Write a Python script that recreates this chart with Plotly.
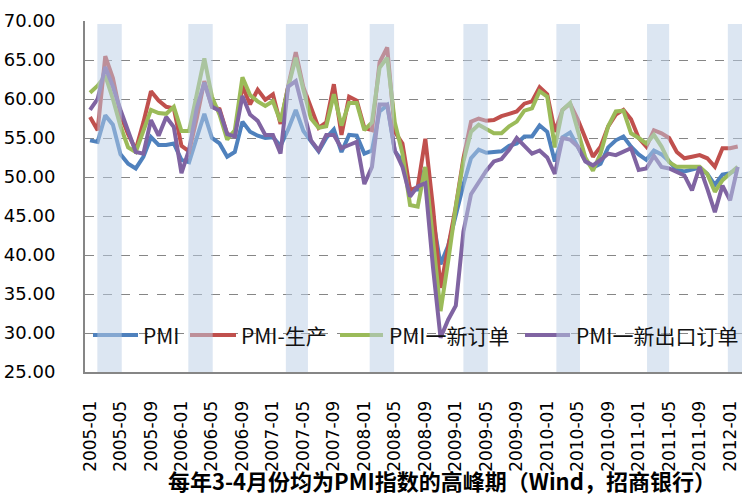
import plotly.graph_objects as go

# ---- data ----
months = [f"{y}-{m:02d}" for y in range(2005, 2013) for m in range(1, 13)][:86]

tick_labels = ["2005-01", "2005-05", "2005-09", "2006-01", "2006-05", "2006-09",
               "2007-01", "2007-05", "2007-09", "2008-01", "2008-05", "2008-09",
               "2009-01", "2009-05", "2009-09", "2010-01", "2010-05", "2010-09",
               "2011-01", "2011-05", "2011-09", "2012-01"]

pmi = [54.7, 54.5, 57.9, 56.7, 52.9, 51.7, 51.1, 52.6, 55.1, 54.1, 54.1, 54.3,
       52.2, 51.9, 55.0, 58.1, 55.0, 54.3, 52.6, 53.2, 57.1, 55.8, 55.3, 55.0,
       55.1, 54.0, 56.1, 58.6, 55.9, 54.5, 53.3, 55.0, 56.1, 53.2, 55.4, 55.3,
       53.0, 53.4, 58.4, 59.2, 53.3, 52.0, 48.4, 48.4, 51.2, 44.6, 38.8, 41.2,
       45.3, 49.0, 52.4, 53.5, 53.1, 53.2, 53.3, 54.0, 54.3, 55.2, 55.2, 56.6,
       55.8, 52.0, 55.1, 55.7, 53.9, 52.1, 51.2, 51.7, 53.8, 54.7, 55.2, 53.9,
       52.9, 52.2, 53.4, 52.9, 52.0, 50.9, 50.7, 50.9, 51.2, 50.4, 49.0, 50.3,
       50.5, 51.0]

production = [57.7, 56.0, 65.5, 62.7, 58.0, 55.5, 53.5, 57.0, 61.0, 59.8, 59.0, 58.8,
              54.0, 53.3, 57.5, 62.3, 59.0, 58.7, 55.5, 55.3, 61.7, 59.3, 61.2, 59.9,
              60.6, 56.8, 61.6, 66.0, 61.5, 59.0, 56.3, 57.0, 61.9, 55.4, 60.3, 59.8,
              56.3, 56.0, 64.7, 66.6, 55.8, 54.3, 48.3, 48.7, 54.9, 46.2, 35.8, 41.0,
              46.2, 52.4, 57.1, 57.5, 57.2, 57.3, 57.8, 58.1, 58.4, 59.4, 59.7, 61.5,
              60.6, 55.8, 58.6, 59.4, 57.4, 55.0, 52.6, 53.9, 56.5, 58.0, 58.6, 57.4,
              55.0, 53.9, 56.0, 55.6, 55.0, 53.2, 52.4, 52.6, 52.8, 52.4, 51.3, 53.7,
              53.7, 53.9]

new_orders = [60.8, 61.7, 63.0, 60.0, 56.5, 53.8, 53.2, 56.0, 58.6, 58.2, 58.1, 59.0,
              55.9, 55.9, 60.5, 65.2, 60.3, 58.0, 54.8, 56.0, 62.8, 60.5, 59.7, 59.1,
              59.7, 57.1, 61.5, 65.3, 61.2, 57.5, 56.3, 56.5, 60.6, 56.6, 59.5, 59.5,
              56.0, 57.0, 64.0, 65.3, 57.0, 53.0, 46.4, 46.2, 51.3, 42.3, 32.8, 39.2,
              46.2, 52.0, 55.8, 56.7, 56.2, 55.6, 55.6, 56.5, 57.1, 58.5, 58.8, 61.0,
              60.3, 53.8, 58.6, 59.5, 56.0, 52.5, 50.8, 53.0, 56.5, 58.4, 58.5, 55.6,
              55.0, 54.3, 55.4, 53.9, 51.9, 51.3, 51.3, 51.3, 51.3, 50.4, 48.1, 49.6,
              50.4, 51.3]

export_orders = [58.6, 60.0, 64.1, 61.6, 58.6, 56.0, 53.2, 53.0, 57.3, 55.3, 57.7, 56.4,
                 50.5, 53.5, 58.8, 62.1, 59.0, 58.5, 55.5, 55.2, 60.4, 58.0, 57.2, 55.4,
                 55.4, 53.0, 61.6, 62.3, 58.5, 54.7, 53.4, 55.4, 55.4, 53.7, 54.1, 54.5,
                 49.1, 51.3, 59.3, 59.3, 53.4, 51.3, 47.5, 48.8, 49.2, 38.5, 29.4, 31.7,
                 33.5, 43.0, 47.8, 49.3, 50.8, 52.0, 52.3, 53.5, 55.0, 54.0, 53.0, 53.4,
                 52.5, 50.4, 55.0, 54.8, 53.9, 52.0, 51.5, 52.2, 53.0, 52.8, 53.2, 53.7,
                 50.9, 51.1, 52.7, 51.3, 51.1, 50.6, 50.2, 48.3, 51.3, 48.5, 45.5, 48.9,
                 47.0, 51.3]

series_names = ["PMI", "PMI-生产", "PMI一新订单", "PMI一新出口订单"]
series_colors = ["#4F81BD", "#C0504D", "#9BBB59", "#8064A2"]

# shaded peak periods (March-April), in month-index units
band_start = [0.96, 12.9, 25.7, 36.7, 49.0, 61.2, 73.1, 83.7]
band_end = [4.16, 16.1, 28.6, 39.9, 52.2, 64.3, 76.0, 86.5]

title_text = "每年3-4月份均为PMI指数的高峰期（Wind，招商银行）"

# ---- geometry helpers (pixel -> paper) ----
W, H = 742, 495
ML, MR, MT, MB = 85, 0, 21, 123
PW, PH = W - ML - MR, H - MT - MB


def px_x(p):
    return (p - ML) / PW


def px_y(p):
    return (H - MB - p) / PH


# ---- figure ----
fig = go.Figure()
for name, vals, col in zip(series_names, [pmi, production, new_orders, export_orders], series_colors):
    fig.add_trace(go.Scatter(x=months, y=vals, name=name, mode="lines",
                             line=dict(color=col, width=4), showlegend=False))

# legend drawn in the plot, like the original (line sample + label)
leg_line_x0 = [93, 190, 340, 525]
leg_line_x1 = [138, 236, 383, 570]
leg_text_x = [141, 239, 387, 574]
leg_y = 335
annotations = []
for name, col, a, b, t in zip(series_names, series_colors, leg_line_x0, leg_line_x1, leg_text_x):
    fig.add_shape(type="line", xref="paper", yref="paper", x0=px_x(a), x1=px_x(b),
                  y0=px_y(leg_y), y1=px_y(leg_y), line=dict(color=col, width=4), layer="above")
    annotations.append(dict(text=name, xref="paper", yref="paper", x=px_x(t), y=px_y(leg_y),
                            xanchor="left", yanchor="middle", showarrow=False,
                            font=dict(family="Noto Sans CJK SC", size=21, color="#111111")))

for s, e in zip(band_start, band_end):
    fig.add_shape(type="rect", xref="x", yref="y", x0=s, x1=e, y0=25, y1=69.6,
                  fillcolor="rgb(185,205,229)", opacity=0.5, line_width=0, layer="above")

annotations.append(dict(text="<b>" + title_text + "</b>", xref="paper", yref="paper",
                        x=px_x(442), y=px_y(480), xanchor="center", yanchor="middle",
                        showarrow=False,
                        font=dict(family="Noto Sans CJK SC", size=22, color="#000")))

fig.update_layout(
    width=W, height=H,
    margin=dict(l=ML, r=MR, t=MT, b=MB, autoexpand=False),
    paper_bgcolor="white", plot_bgcolor="white",
    showlegend=False,
    annotations=annotations,
)

fig.update_xaxes(type="category", range=[-0.66, 85.56], tickmode="array",
                 tickvals=tick_labels, ticktext=tick_labels, tickangle=-90,
                 tickfont=dict(family="DejaVu Sans", size=17, color="#000000"),
                 showgrid=False, showline=True, linecolor="#868686",
                 linewidth=2, ticks="", ticklabelstandoff=20, zeroline=False,
                 automargin=False)

fig.update_yaxes(range=[25, 70], tick0=25, dtick=5, tickformat=".2f",
                 tickfont=dict(family="DejaVu Sans", size=18, color="#000000"),
                 showgrid=True, gridcolor="#868686", griddash="dash",
                 gridwidth=1, showline=True, linecolor="#868686", linewidth=2, ticks="",
                 ticklabelstandoff=24, zeroline=False, automargin=False)

fig.write_html("out.html", config={"displayModeBar": False},
               post_script="document.body.style.margin='0';document.body.style.overflow='hidden';")
